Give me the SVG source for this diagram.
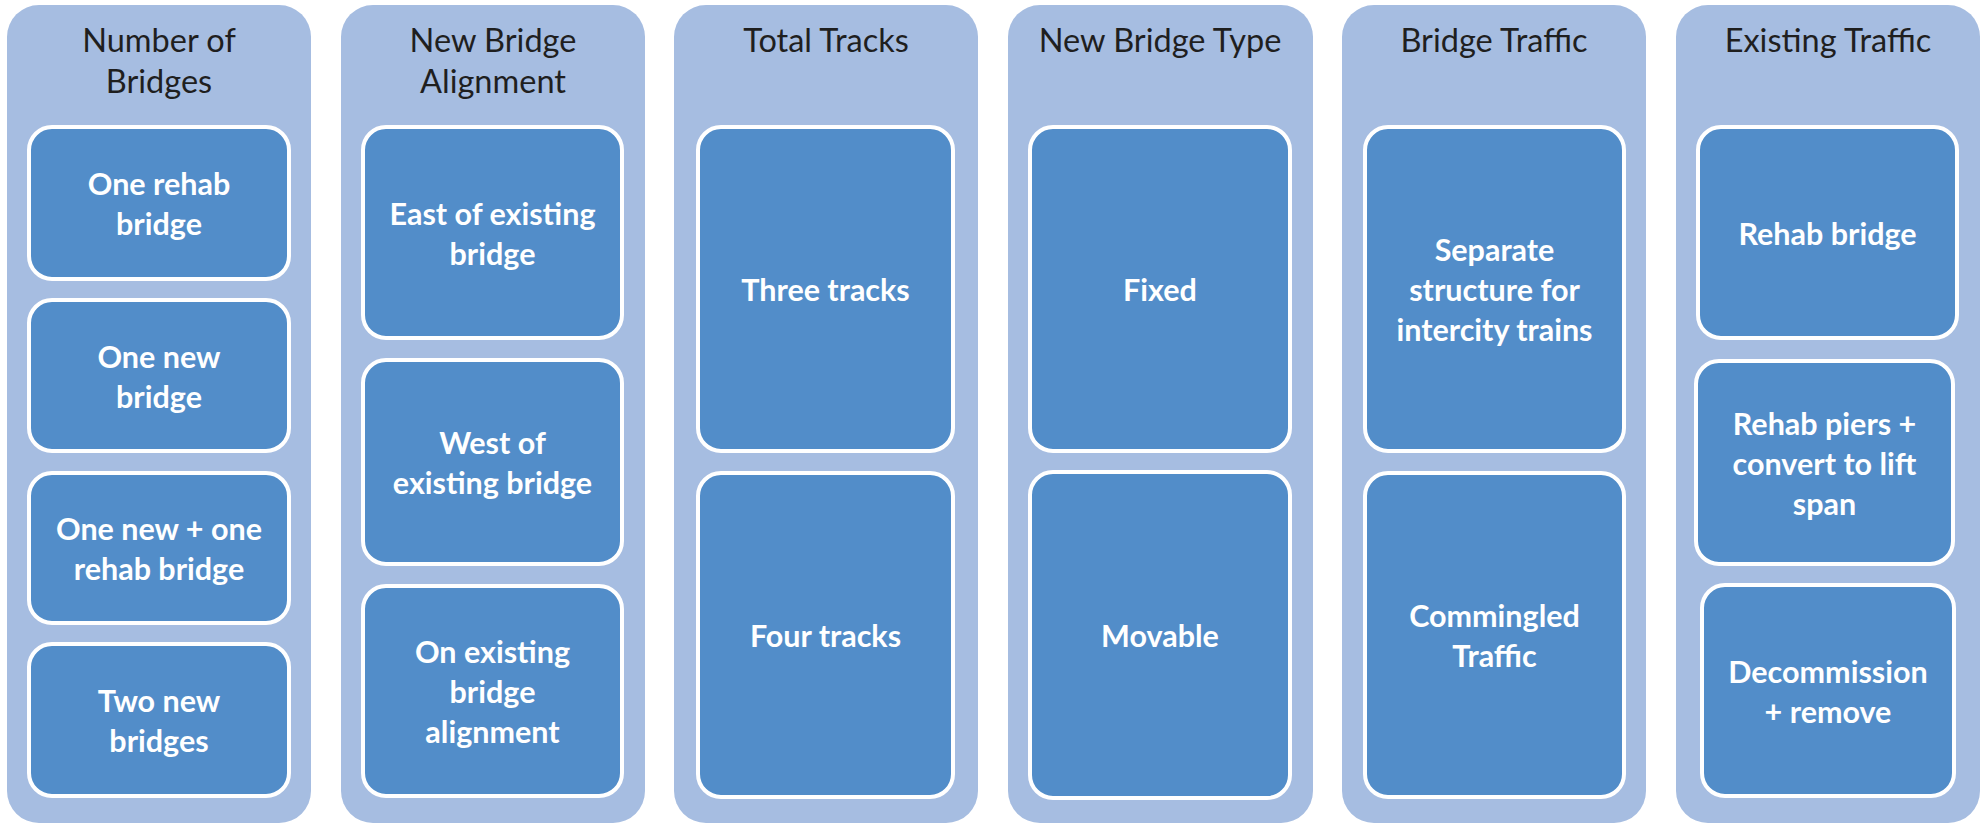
<svg xmlns="http://www.w3.org/2000/svg" width="1983" height="824" viewBox="0 0 1983 824">
<style>
.col{fill:#A6BDE1;}
.box{fill:#528DC9;stroke:#FFFFFF;stroke-width:4;}
.hd{font-family:Lato,"Liberation Sans",sans-serif;font-size:32.5px;fill:#1F1F1F;text-anchor:middle;}
.lb{font-family:Lato,"Liberation Sans",sans-serif;font-size:30.5px;font-weight:bold;fill:#FFFFFF;text-anchor:middle;}
</style>
<rect width="1983" height="824" fill="#FFFFFF"/>
<g id="connectors"></g>

<g id="col-number-of-bridges">
<rect class="col" x="7" y="5" width="304" height="818" rx="32"/>
<text class="hd" x="159" y="52">Number of</text>
<text class="hd" x="159" y="93">Bridges</text>
</g>
<g id="n-one-rehab"><rect class="box" x="29" y="127" width="260" height="152" rx="23"/><text class="lb" x="159" y="195">One rehab</text><text class="lb" x="159" y="235">bridge</text></g>
<g id="n-one-new"><rect class="box" x="29" y="300" width="260" height="151" rx="23"/><text class="lb" x="159" y="368">One new</text><text class="lb" x="159" y="408">bridge</text></g>
<g id="n-one-new-one-rehab"><rect class="box" x="29" y="473" width="260" height="150" rx="23"/><text class="lb" x="159" y="540">One new + one</text><text class="lb" x="159" y="580">rehab bridge</text></g>
<g id="n-two-new"><rect class="box" x="29" y="644" width="260" height="152" rx="23"/><text class="lb" x="159" y="712">Two new</text><text class="lb" x="159" y="752">bridges</text></g>

<g id="col-new-bridge-alignment">
<rect class="col" x="341" y="5" width="304" height="818" rx="32"/>
<text class="hd" x="493" y="52">New Bridge</text>
<text class="hd" x="493" y="93">Alignment</text>
</g>
<g id="n-east"><rect class="box" x="363" y="127" width="259" height="211" rx="23"/><text class="lb" x="492.5" y="225">East of existing</text><text class="lb" x="492.5" y="265">bridge</text></g>
<g id="n-west"><rect class="box" x="363" y="360" width="259" height="204" rx="23"/><text class="lb" x="492.5" y="454">West of</text><text class="lb" x="492.5" y="494">existing bridge</text></g>
<g id="n-on-existing"><rect class="box" x="363" y="586" width="259" height="210" rx="23"/><text class="lb" x="492.5" y="663">On existing</text><text class="lb" x="492.5" y="703">bridge</text><text class="lb" x="492.5" y="743">alignment</text></g>

<g id="col-total-tracks">
<rect class="col" x="674" y="5" width="304" height="818" rx="32"/>
<text class="hd" x="826" y="52">Total Tracks</text>
</g>
<g id="n-three-tracks"><rect class="box" x="698" y="127" width="255" height="324" rx="23"/><text class="lb" x="825.5" y="301">Three tracks</text></g>
<g id="n-four-tracks"><rect class="box" x="698" y="473" width="255" height="324" rx="23"/><text class="lb" x="825.5" y="647">Four tracks</text></g>

<g id="col-new-bridge-type">
<rect class="col" x="1008" y="5" width="305" height="818" rx="32"/>
<text class="hd" x="1160" y="52">New Bridge Type</text>
</g>
<g id="n-fixed"><rect class="box" x="1030" y="127" width="260" height="324" rx="23"/><text class="lb" x="1160" y="301">Fixed</text></g>
<g id="n-movable"><rect class="box" x="1030" y="472" width="260" height="326" rx="23"/><text class="lb" x="1160" y="647">Movable</text></g>

<g id="col-bridge-traffic">
<rect class="col" x="1342" y="5" width="304" height="818" rx="32"/>
<text class="hd" x="1494" y="52">Bridge Traffic</text>
</g>
<g id="n-separate"><rect class="box" x="1365" y="127" width="259" height="324" rx="23"/><text class="lb" x="1494.5" y="261">Separate</text><text class="lb" x="1494.5" y="301">structure for</text><text class="lb" x="1494.5" y="341">intercity trains</text></g>
<g id="n-commingled"><rect class="box" x="1365" y="473" width="259" height="324" rx="23"/><text class="lb" x="1494.5" y="627">Commingled</text><text class="lb" x="1494.5" y="667">Traffic</text></g>

<g id="col-existing-traffic">
<rect class="col" x="1676" y="5" width="304" height="818" rx="32"/>
<text class="hd" x="1828" y="52">Existing Traffic</text>
</g>
<g id="n-rehab-bridge"><rect class="box" x="1698" y="127" width="259" height="211" rx="23"/><text class="lb" x="1827.5" y="245">Rehab bridge</text></g>
<g id="n-rehab-piers"><rect class="box" x="1696" y="361" width="257" height="203" rx="23"/><text class="lb" x="1824.5" y="435">Rehab piers +</text><text class="lb" x="1824.5" y="475">convert to lift</text><text class="lb" x="1824.5" y="515">span</text></g>
<g id="n-decommission"><rect class="box" x="1702" y="585" width="252" height="211" rx="23"/><text class="lb" x="1828" y="683">Decommission</text><text class="lb" x="1828" y="723">+ remove</text></g>
</svg>
